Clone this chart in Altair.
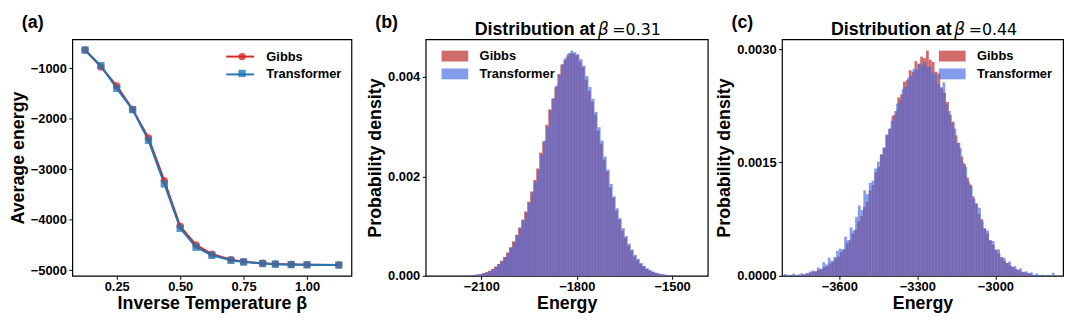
import altair as alt
import pandas as pd

FONT = "Liberation Sans"
MATH_FONT = "DejaVu Sans"
RED_LINE = "#d62728"
BLUE_LINE = "#1f77b4"
RED_BAR = "#cd5c5c"
BLUE_BAR = "#4169e1"
SERIES = ["Gibbs", "Transformer"]

# ---------------- panel (a): average energy vs beta ----------------
beta = [0.125, 0.1875, 0.25, 0.3125, 0.375, 0.4375, 0.5, 0.5625, 0.625, 0.7,
        0.75, 0.825, 0.875, 0.9375, 1.0, 1.125]
gibbs_energy = [-640, -975, -1350, -1815, -2380, -3225, -4130, -4500, -4680, -4790,
                -4830, -4862, -4875, -4885, -4890, -4895]
transformer_energy = [-640, -950, -1400, -1820, -2430, -3290, -4170, -4545, -4705, -4805,
                      -4838, -4868, -4880, -4888, -4893, -4897]
a_x_ticks = [0.25, 0.5, 0.75, 1.0]
a_y_ticks = [-1000, -2000, -3000, -4000, -5000]

# ---------------- panel (b): histogram at beta = 0.31 (density in 1e-5) ----------------
b_gibbs_start, b_gibbs_width = -2165.0, 9.5
b_trans_start, b_trans_width = -2162.0, 9.5
b_gibbs_density_e5 = [0.4, 0.6, 0.9, 1.3, 1.9, 2.7, 3.8, 5.3, 7.4, 10.2, 13.8, 18.6, 23.9,
                      30.3, 38.0, 47.0, 57.5, 69.4, 82.8, 97.3, 113.0, 129.5, 149.2, 169.8, 192.7,
                      216, 248, 270, 304, 335, 356, 380, 406, 425, 434, 444, 448, 447, 444, 431,
                      420, 395, 372, 351, 325, 292, 266, 234, 210, 178, 157, 131, 113, 91, 77,
                      61, 51, 39, 32, 24, 19, 14, 10.6, 7.8, 5.8, 4.2, 3.0, 2.1, 1.5, 1.0, 0.7,
                      0.5, 0.3, 0.2, 0.1, 0.1]
b_trans_density_e5 = [0.3, 0.5, 0.8, 1.2, 1.8, 2.6, 3.6, 5.2, 7.0, 9.8, 13.5, 18.0, 23.5,
                      29.5, 37.5, 46.0, 56.5, 68.0, 81.5, 96.0, 111.5, 127.0, 147.0, 167.5, 190.0,
                      214, 244, 272, 300, 333, 358, 383, 405, 426, 439, 448, 453, 450, 446, 436,
                      423, 402, 380, 356, 330, 299, 272, 240, 214, 185, 160, 136, 116, 96, 80,
                      65, 53, 42, 34, 26, 20, 15, 11.5, 8.5, 6.3, 4.6, 3.3, 2.3, 1.6, 1.1, 0.8,
                      0.5, 0.4, 0.2, 0.1, 0.1]
b_x_ticks = [-2100, -1800, -1500]
b_y_ticks = [0.0, 0.002, 0.004]

# ---------------- panel (c): histogram at beta = 0.44 (density in 1e-6) ----------------
c_gibbs_start, c_gibbs_width = -3740.0, 11.0
c_trans_start, c_trans_width = -3812.0, 10.5
c_gibbs_density_e6 = [22, 35, 38, 55, 60, 80, 88, 115, 130, 165,
                      185, 230, 255, 320, 350, 430, 470, 560, 610, 720,
                      790, 910, 980, 1130, 1200, 1370, 1440, 1610, 1690, 1870,
                      1950, 2120, 2180, 2360, 2400, 2570, 2590, 2720, 2700, 2840,
                      2800, 2900, 2880, 2980, 2860, 2830, 2700, 2680, 2480, 2420,
                      2300, 2130, 2040, 1860, 1760, 1580, 1480, 1300, 1210, 1050,
                      960, 820, 750, 630, 560, 470, 410, 340, 295, 240,
                      200, 170, 135, 115, 90, 75, 55, 45, 35, 25]
c_trans_density_e6 = [25, 8, 12, 30, 10, 20, 35, 15, 30, 55,
                      70, 60, 110, 95, 180, 150, 240, 200, 250, 330,
                      360, 350, 520, 470, 640, 600, 780, 930, 870, 1130,
                      1080, 1230, 1260, 1420, 1510, 1600, 1700, 1860, 1940, 2050,
                      2130, 2280, 2330, 2470, 2500, 2620, 2650, 2740, 2730, 2810,
                      2790, 2830, 2760, 2770, 2690, 2670, 2540, 2500, 2560, 2270,
                      2180, 2020, 1950, 1760, 1690, 1500, 1440, 1250, 1190, 1020,
                      950, 900, 720, 620, 600, 470, 460, 350, 350, 250,
                      240, 170, 190, 120, 130, 80, 100, 50, 60, 40,
                      45, 15, 30, 10, 15, 5, 10, 3, 40]
c_x_ticks = [-3600, -3300, -3000]
c_y_ticks = [0.0, 0.0015, 0.003]


def hist_frame(start, width, heights, unit, name):
    n = len(heights)
    return pd.DataFrame({
        "x0": [start + width * i for i in range(n)],
        "x1": [start + width * (i + 1) for i in range(n)],
        "density": [h * unit for h in heights],
        "series": [name] * n,
    })


def text_mark(txt, x, y, size=18, weight="bold", style="normal", font=FONT):
    return alt.Chart(pd.DataFrame({"t": [txt]})).mark_text(
        align="left", baseline="alphabetic", font=font, fontSize=size,
        fontWeight=weight, fontStyle=style, color="black"
    ).encode(text="t:N", x=alt.value(x), y=alt.value(y))


def heading(letter, beta_text):
    parts = [text_mark(letter, -51, -11)]
    if beta_text:
        parts += [
            text_mark("Distribution at", 49.5, -4.7),
            text_mark("β", 174, -4.7, size=17, weight="normal", style="italic", font=MATH_FONT),
            text_mark("=" + beta_text, 188.6, -4.7, size=16, weight="normal", font=MATH_FONT),
        ]
    return parts


LEG_LABEL = dict(labelFont=FONT, labelFontSize=13, labelFontWeight="bold", labelColor="black")

# ---------- panel a ----------
df_a = pd.DataFrame({
    "beta": beta + beta,
    "energy": gibbs_energy + transformer_energy,
    "series": ["Gibbs"] * len(beta) + ["Transformer"] * len(beta),
})
df_a["marker"] = df_a["series"]

LINE_PATH = "M-1.65,0L1.65,0"

legend_line = alt.Legend(
    title=None, orient="none", legendX=160, legendY=8, padding=0,
    symbolType=LINE_PATH, symbolSize=289, symbolStrokeWidth=2, labelOffset=17,
    rowPadding=1, **LEG_LABEL,
)
legend_mark = alt.Legend(
    title=None, orient="none", legendX=165, legendY=11, padding=0,
    symbolSize=55, symbolStrokeWidth=0, symbolOpacity=0.8, labelOffset=17, rowPadding=3,
    labelOpacity=0, **LEG_LABEL,
)

xa = alt.X("beta:Q", scale=alt.Scale(domain=[0.075, 1.175], nice=False, zero=False),
           axis=alt.Axis(values=a_x_ticks, format=".2f", title="Inverse Temperature β"))
ya = alt.Y("energy:Q", scale=alt.Scale(domain=[-5111, -427], nice=False, zero=False),
           axis=alt.Axis(values=a_y_ticks, format="d", title="Average energy"))

lines_a = alt.Chart(df_a).mark_line(strokeWidth=2).encode(
    x=xa, y=ya,
    color=alt.Color("series:N", scale=alt.Scale(domain=SERIES, range=[RED_LINE, BLUE_LINE]),
                    legend=legend_line),
)
points_a = alt.Chart(df_a).mark_point(filled=True, opacity=0.75, size=55).encode(
    x=xa, y=ya,
    fill=alt.Fill("marker:N", scale=alt.Scale(range=[RED_LINE, BLUE_LINE]),
                  legend=legend_mark),
    shape=alt.Shape("marker:N", scale=alt.Scale(range=["circle", "square"]),
                    legend=legend_mark),
)
panel_a = alt.layer(lines_a, points_a, *heading("(a)", None)).properties(width=282, height=239)

# ---------- histogram panels ----------
PATCH = "M-1.5,-0.61L1.5,-0.61L1.5,0.61L-1.5,0.61Z"


def hist_panel(df, xdom, ydom, xticks, yticks, yfmt, beta_text, lx, letter, width):
    leg = alt.Legend(
        title=None, orient="none", legendX=lx, legendY=8, padding=0,
        symbolType=PATCH, symbolSize=324, symbolStrokeWidth=0, labelOffset=16, rowPadding=2,
        **LEG_LABEL,
    )
    bars = alt.Chart(df).mark_rect(strokeWidth=0).encode(
        x=alt.X("x0:Q", scale=alt.Scale(domain=xdom, nice=False, zero=False),
                axis=alt.Axis(values=xticks, format="d", title="Energy")),
        x2="x1:Q",
        y=alt.Y("density:Q", scale=alt.Scale(domain=ydom, nice=False),
                axis=alt.Axis(values=yticks, format=yfmt, title="Probability density")),
        y2=alt.datum(0),
        color=alt.Color("series:N", scale=alt.Scale(domain=SERIES, range=[RED_BAR, BLUE_BAR]),
                        legend=leg),
        opacity=alt.Opacity("series:N", scale=alt.Scale(domain=SERIES, range=[0.9, 0.65]),
                            legend=leg),
    )
    return alt.layer(bars, *heading(letter, beta_text)).properties(width=width, height=239)


df_b = pd.concat([
    hist_frame(b_gibbs_start, b_gibbs_width, b_gibbs_density_e5, 1e-5, "Gibbs"),
    hist_frame(b_trans_start, b_trans_width, b_trans_density_e5, 1e-5, "Transformer"),
], ignore_index=True)
df_c = pd.concat([
    hist_frame(c_gibbs_start, c_gibbs_width, c_gibbs_density_e6, 1e-6, "Gibbs"),
    hist_frame(c_trans_start, c_trans_width, c_trans_density_e6, 1e-6, "Transformer"),
], ignore_index=True)

panel_b = hist_panel(df_b, [-2275, -1388], [0, 0.00476], b_x_ticks, b_y_ticks, ".3f",
                     "0.31", 20.5, "(b)", 285)
panel_c = hist_panel(df_c, [-3820, -2740], [0, 0.00313], c_x_ticks, c_y_ticks, ".4f",
                     "0.44", 163, "(c)", 284)

chart = alt.hconcat(panel_a, panel_b, panel_c, spacing=75, bounds="flush").resolve_scale(
    color="independent", fill="independent", shape="independent", opacity="independent"
).properties(
    padding={"left": 0, "top": 4, "right": 8, "bottom": 0},
    background="white",
).configure_view(
    stroke="black", strokeWidth=1.2
).configure_axis(
    labelFont=FONT, labelFontSize=13, labelFontWeight="bold", labelColor="black",
    titleFont=FONT, titleFontSize=18, titleFontWeight="bold", titleColor="black",
    domain=False, grid=False, ticks=True, tickColor="black", tickSize=3.5, tickWidth=1,
).configure_axisX(
    labelPadding=1.5, titlePadding=1
).configure_axisY(
    labelPadding=2.5, titlePadding=3
)

chart.save("out.html", embed_options={"renderer": "svg", "actions": False})
